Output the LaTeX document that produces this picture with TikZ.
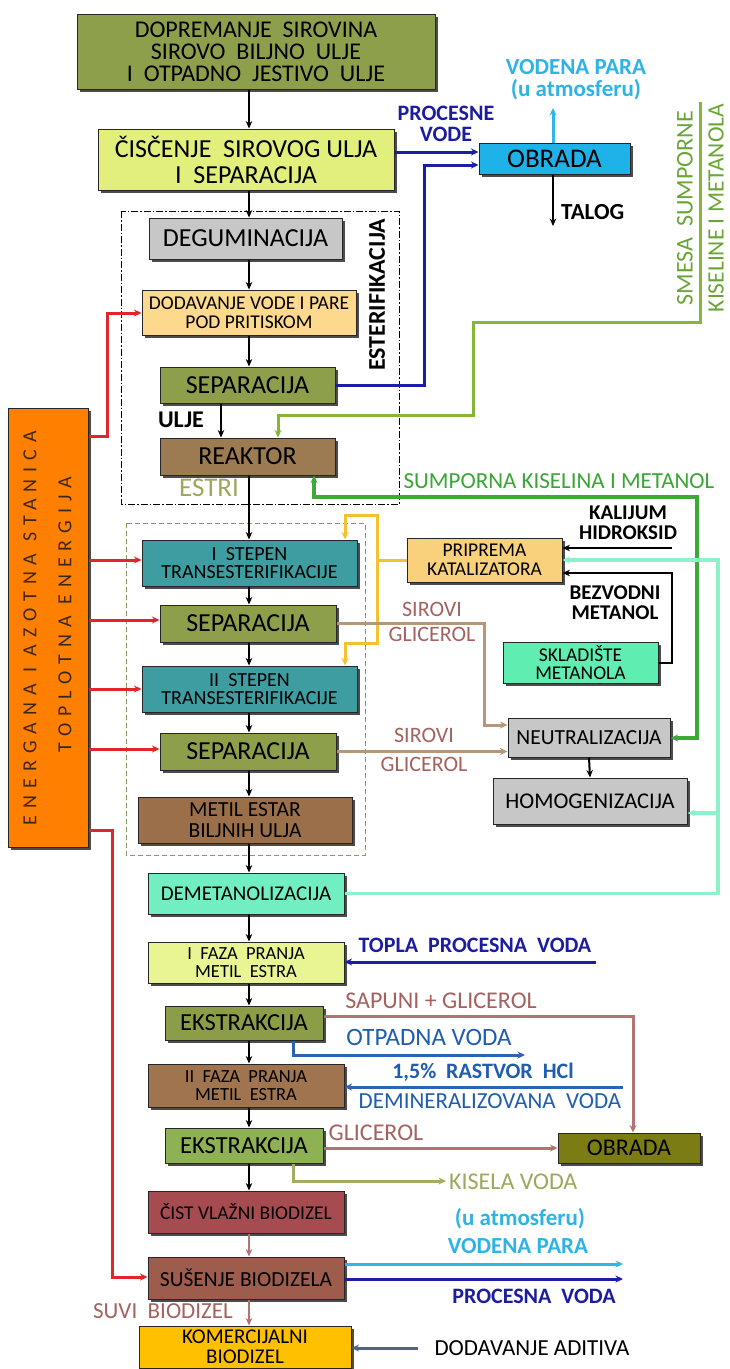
\documentclass[tikz,border=0pt]{standalone}
\usepackage{fontspec}
\setmainfont{Carlito}
\newfontfamily\tracked{Carlito}[LetterSpace=35]
\usetikzlibrary{arrows.meta,shadows}
% box fills
\definecolor{olv}{HTML}{8D9F4B}
\definecolor{lyg}{HTML}{E2EF7C}
\definecolor{cyb}{HTML}{1FB2E8}
\definecolor{gry}{HTML}{C7C7C7}
\definecolor{peach}{HTML}{FCD98C}
\definecolor{brn}{HTML}{9C7A52}
\definecolor{tealb}{HTML}{3D9DA1}
\definecolor{brnb}{HTML}{9A6F4A}
\definecolor{mintb}{HTML}{72EFC2}
\definecolor{lygb}{HTML}{E9F592}
\definecolor{olvb}{HTML}{8B9D46}
\definecolor{brnc}{HTML}{A0744E}
\definecolor{grnb}{HTML}{8EB253}
\definecolor{cistb}{HTML}{A64B4F}
\definecolor{susb}{HTML}{9E5C4C}
\definecolor{amber}{HTML}{FFC000}
\definecolor{dolv}{HTML}{7C7C14}
\definecolor{katb}{HTML}{F9D07C}
\definecolor{sklb}{HTML}{5FEDB2}
\definecolor{orng}{HTML}{FF7F00}
% line colours
\definecolor{lred}{HTML}{E0262B}
\definecolor{lnavy}{HTML}{1C1CA8}
\definecolor{lgreen}{HTML}{86B637}
\definecolor{dgreen}{HTML}{3DAA35}
\definecolor{lyel}{HTML}{F2C230}
\definecolor{ltan}{HTML}{B6977A}
\definecolor{lmint}{HTML}{8DF1CC}
\definecolor{lrosy}{HTML}{B37373}
\definecolor{lblue}{HTML}{2E62B5}
\definecolor{lcyan}{HTML}{2EB8E8}
\definecolor{lkhaki}{HTML}{A4AC62}
\definecolor{lsteel}{HTML}{4B6683}
\definecolor{fdash}{HTML}{8A9A5B}
% text colours
\definecolor{tnavy}{HTML}{1C1CA0}
\definecolor{tcyan}{HTML}{2DB3E6}
\definecolor{tgreen}{HTML}{6AA535}
\definecolor{tdgreen}{HTML}{3AA535}
\definecolor{tkhaki}{HTML}{9FA75D}
\definecolor{trosy}{HTML}{A4625F}
\definecolor{tblue}{HTML}{1F5DB0}
\definecolor{tdark}{HTML}{3A2818}
\newcommand\fz[2]{\fontsize{#1}{#2}\selectfont}
\begin{document}
\begin{tikzpicture}[x=1pt,y=-1pt,
  bx/.style={draw=black!85, line width=1pt, inner sep=0pt, align=center, text=black,
    general shadow={fill=black!70, shadow xshift=2.5pt, shadow yshift=-2.5pt}},
  conn/.style={line width=3pt, -{Stealth[length=7.5pt,width=7pt]}},
  blk/.style={line width=2pt, draw=black, -{Stealth[length=7.5pt,width=6.5pt]}},
  lbl/.style={inner sep=0pt, align=center}]
\useasboundingbox (0,0) rectangle (729,1369);
\fill[white] (0,0) rectangle (729,1369);
\coordinate (m) at (249,0);
\coordinate (u) at (221,0);

% frames
\draw[black, line width=0.8pt, dash pattern=on 7pt off 2pt on 1.5pt off 2pt] (121,211) rectangle (399,504);
\draw[fdash, line width=1pt, dash pattern=on 5pt off 3pt] (126,523) rectangle (365,855);

% boxes
\node[bx, fill=olv, minimum width=358, minimum height=75, font=\fz{24}{22}] (top) at (256,51.5)
  {DOPREMANJE\ \ SIROVINA\\SIROVO\ \ BILJNO\ \ ULJE\\I\ \ OTPADNO\ \ JESTIVO\ \ ULJE};
\node[bx, fill=lyg, minimum width=296, minimum height=61, font=\fz{26}{26}] (clean) at (246,159.5)
  {ČISČENJE\ \ SIROVOG ULJA\\I\ \ SEPARACIJA};
\node[bx, fill=cyb, minimum width=151, minimum height=31, font=\fz{27}{27}] (obr1) at (554.5,158.5)
  {OBRADA};
\node[bx, fill=gry, minimum width=193, minimum height=41, font=\fz{26}{26}] (degum) at (245.5,238.5)
  {DEGUMINACIJA};
\node[bx, fill=peach, minimum width=214, minimum height=45, font=\fz{19.5}{18.5}] (dodav) at (249,312.5)
  {DODAVANJE VODE I PARE\\POD PRITISKOM};
\node[bx, fill=olv, minimum width=175, minimum height=36, font=\fz{26}{26}] (sep1) at (247.5,385)
  {SEPARACIJA};
\node[bx, fill=brn, minimum width=175, minimum height=37, font=\fz{26}{26}] (reak) at (247.5,456.5)
  {REAKTOR};
\node[bx, fill=tealb, minimum width=215, minimum height=46, font=\fz{20}{18}] (st1) at (249.5,563)
  {I\ \ STEPEN\\TRANSESTERIFIKACIJE};
\node[bx, fill=olv, minimum width=176, minimum height=37, font=\fz{26}{26}] (sep2) at (248,623.5)
  {SEPARACIJA};
\node[bx, fill=tealb, minimum width=215, minimum height=46, font=\fz{20}{18}] (st2) at (249.5,689)
  {II\ \ STEPEN\\TRANSESTERIFIKACIJE};
\node[bx, fill=olv, minimum width=176, minimum height=37, font=\fz{26}{26}] (sep3) at (248,751.5)
  {SEPARACIJA};
\node[bx, fill=brnb, minimum width=214, minimum height=46, font=\fz{21.5}{21}] (metil) at (245,820)
  {METIL ESTAR\\BILJNIH ULJA};
\node[bx, fill=mintb, minimum width=196, minimum height=41, font=\fz{21}{21}] (demet) at (246,893.5)
  {DEMETANOLIZACIJA};
\node[bx, fill=lygb, minimum width=196, minimum height=41, font=\fz{18.5}{18}] (faza1) at (246,962.5)
  {I\ \ FAZA\ \ PRANJA\\METIL\ \ ESTRA};
\node[bx, fill=olvb, minimum width=158, minimum height=34, font=\fz{24.5}{24}] (ek1) at (244,1023)
  {EKSTRAKCIJA};
\node[bx, fill=brnc, minimum width=196, minimum height=43, font=\fz{18.5}{18}] (faza2) at (246,1085.5)
  {II\ \ FAZA\ \ PRANJA\\METIL\ \ ESTRA};
\node[bx, fill=grnb, minimum width=158, minimum height=35, font=\fz{24.5}{24}] (ek2) at (244,1145.5)
  {EKSTRAKCIJA};
\node[bx, fill=cistb, minimum width=196, minimum height=42, font=\fz{19.5}{19}] (cist) at (246,1212)
  {ČIST VLAŽNI BIODIZEL};
\node[bx, fill=susb, minimum width=196, minimum height=42, font=\fz{21.5}{21}] (sus) at (246,1278)
  {SUŠENJE BIODIZELA};
\node[bx, fill=amber, minimum width=212, minimum height=42, font=\fz{21}{20}] (kom) at (245,1347)
  {KOMERCIJALNI\\BIODIZEL};
\node[bx, fill=dolv, minimum width=142, minimum height=30, font=\fz{24}{24}] (obr2) at (629,1148)
  {OBRADA};
\node[bx, fill=katb, minimum width=155, minimum height=44, font=\fz{19.5}{18.5}] (prip) at (484.5,560)
  {PRIPREMA\\KATALIZATORA};
\node[bx, fill=sklb, minimum width=155, minimum height=41, font=\fz{19.5}{18}] (skl) at (580.5,662.5)
  {SKLADIŠTE\\METANOLA};
\node[bx, fill=gry, minimum width=162, minimum height=39, font=\fz{21.5}{21}] (neu) at (589,737.5)
  {NEUTRALIZACIJA};
\node[bx, fill=gry, minimum width=194, minimum height=46, font=\fz{22.5}{22}] (hom) at (590,801)
  {HOMOGENIZACIJA};
\node[bx, fill=orng, minimum width=80, minimum height=439] (en) at (48,627.5) {};
\node[lbl, rotate=90, text=tdark, font=\tracked\fz{20}{20}] at (30,628) {ENERGANA\ I\ AZOTNA\ STANICA};
\node[lbl, rotate=90, text=tdark, font=\tracked\fz{20}{20}] at (65,615) {TOPLOTNA\ ENERGIJA};

% main black flow
\draw[blk] (top.south -| m) -- (clean.north -| m);
\draw[blk] (clean.south -| m) -- (degum.north -| m);
\draw[blk] (degum.south -| m) -- (dodav.north -| m);
\draw[blk] (dodav.south -| m) -- (sep1.north -| m);
\draw[blk] (sep1.south -| u) -- (reak.north -| u);
\draw[blk] (reak.south -| m) -- (st1.north -| m);
\draw[blk] (st1.south -| m) -- (sep2.north -| m);
\draw[blk] (sep2.south -| m) -- (st2.north -| m);
\draw[blk] (st2.south -| m) -- (sep3.north -| m);
\draw[blk] (sep3.south -| m) -- (metil.north -| m);
\draw[blk] (metil.south -| m) -- (demet.north -| m);
\draw[blk] (demet.south -| m) -- (faza1.north -| m);
\draw[blk] (faza1.south -| m) -- (ek1.north -| m);
\draw[blk] (ek1.south -| m) -- (faza2.north -| m);
\draw[blk] (faza2.south -| m) -- (ek2.north -| m);
\draw[blk] (ek2.south -| m) -- (cist.north -| m);
\draw[blk, draw=lrosy] (cist.south -| m) -- (sus.north -| m);
\draw[blk, draw=lrosy] (sus.south -| m) -- (kom.north -| m);
\draw[blk] (neu.south) -- (hom.north);

% OBRADA 1 outputs
\coordinate (vp) at (553,108);
\coordinate (tal) at (553,226);
\draw[conn, lcyan] (obr1.north -| vp) -- (vp);
\draw[blk] (obr1.south -| tal) -- (tal);
\draw[conn, lnavy] (clean.east |- 0,152) -- (obr1.west |- 0,152);
\draw[conn, lnavy] (sep1.east) -- (424,385) -- (424,165) -- (obr1.west |- 0,165);

% red heat lines
\draw[conn, lred] (en.east |- 0,436) -- (107,436) -- (107,313) -- (dodav.west |- 0,313);
\draw[conn, lred] (en.east |- 0,560) -- (st1.west |- 0,560);
\draw[conn, lred] (en.east |- 0,620) -- (sep2.west |- 0,620);
\draw[conn, lred] (en.east |- 0,689) -- (st2.west |- 0,689);
\draw[conn, lred] (en.east |- 0,749) -- (sep3.west |- 0,749);
\draw[conn, lred] (en.east |- 0,830) -- (112,830) -- (112,1277) -- (sus.west |- 0,1277);

% green acid lines
\coordinate (smtop) at (700,102);
\draw[conn, lgreen] (smtop) -- (700,322) -- (473,322) -- (473,415) -- (278,415) -- (reak.north -| 278,0);
\draw[line width=3.2pt, dgreen, {Stealth[length=7.5pt,width=7pt]}-{Stealth[length=7.5pt,width=7pt]}]
  (reak.south -| 314,0) -- (314,497) -- (697,497) -- (697,738) -- (neu.east |- 0,738);

% catalyst (yellow)
\draw[conn, lyel] (prip.west) -- (377,560) -- (377,515) -- (345,515) -- (st1.north -| 345,0);
\draw[conn, lyel] (377,560) -- (377,643) -- (345,643) -- (st2.north -| 345,0);

% glycerol (tan)
\draw[conn, ltan] (sep2.east) -- (484,623.5) -- (484,725) -- (neu.west |- 0,725);
\draw[conn, ltan] (sep3.east) -- (neu.west |- sep3.east);

% catalyst inputs (black)
\coordinate (koh) at (672,548);
\draw[blk] (koh) -- (prip.east |- koh);
\draw[blk] (skl.east) -- (672,662.5) -- (672,573) -- (prip.east |- 0,573);

% methanol recycle (mint)
\coordinate (mj) at (718,813);
\draw[conn, lmint, line width=3.4pt] (demet.east) -- (718,893.5) -- (718,560) -- (prip.east |- 0,560);
\draw[conn, lmint, line width=3.4pt] (mj) -- (hom.east |- mj);

% washing section
\coordinate (tpv) at (596,962);
\draw[conn, lnavy] (tpv) -- (faza1.east |- tpv);
\draw[conn, lrosy] (ek1.east |- 0,1016) -- (633,1016) -- (obr2.north -| 633,0);
\coordinate (otp) at (525,1055);
\draw[conn, lblue] (ek1.south -| 293,0) -- (293,1055) -- (otp);
\coordinate (hcl) at (623,1087);
\draw[conn, lblue] (hcl) -- (faza2.east |- hcl);
\draw[conn, lrosy] (ek2.east |- obr2.west) -- (obr2.west);
\coordinate (kv) at (446,1181);
\draw[conn, lkhaki] (ek2.south -| 293,0) -- (293,1181) -- (kv);
\coordinate (vp2) at (623,1264);
\coordinate (pv2) at (623,1279);
\draw[conn, lcyan] (sus.east |- vp2) -- (vp2);
\draw[conn, lnavy] (sus.east |- pv2) -- (pv2);
\coordinate (adt) at (418,1348);
\draw[conn, lsteel] (adt) -- (kom.east |- adt);

% labels
\node[lbl, text=tnavy, font=\bfseries\fz{22}{21}] at (446,124) {PROCESNE\\VODE};
\node[lbl, text=tcyan, font=\bfseries\fz{23}{22}] at (576,80) {VODENA PARA\\(u atmosferu)};
\node[lbl, anchor=west, font=\bfseries\fz{23}{23}] at (561,212) {TALOG};
\node[lbl, rotate=90, font=\bfseries\fz{24}{24}] at (377,295) {ESTERIFIKACIJA};
\node[lbl, font=\bfseries\fz{24}{24}] at (181,420) {ULJE};
\node[lbl, text=tkhaki, font=\fz{27}{27}] at (209,488) {ESTRI};
\node[lbl, text=tdgreen, font=\fz{23}{23}] at (559,481) {SUMPORNA KISELINA I METANOL};
\node[lbl, rotate=90, text=tgreen, font=\fz{24}{24}] at (685,208) {SMESA\ \ SUMPORNE};
\node[lbl, rotate=90, text=tgreen, font=\fz{23.5}{24}] at (716,208) {KISELINE I METANOLA};
\node[lbl, font=\bfseries\fz{21}{20}] at (628,523) {KALIJUM\\HIDROKSID};
\node[lbl, font=\bfseries\fz{21}{20}] at (615,603) {BEZVODNI\\METANOL};
\node[lbl, text=trosy, font=\fz{22}{25}] at (432,622) {SIROVI\\GLICEROL};
\node[lbl, text=trosy, font=\fz{22}{29}] at (424,750) {SIROVI\\GLICEROL};
\node[lbl, text=tnavy, font=\bfseries\fz{22}{22}] at (475,945) {TOPLA\ \ PROCESNA\ \ VODA};
\node[lbl, text=trosy, font=\fz{24}{24}] at (441,1001) {SAPUNI + GLICEROL};
\node[lbl, text=tblue, font=\fz{25}{25}] at (429,1037) {OTPADNA VODA};
\node[lbl, text=tblue, font=\bfseries\fz{22}{22}] at (483,1072) {1,5\%\ \ RASTVOR\ \ HCl};
\node[lbl, text=tblue, font=\fz{23}{23}] at (490,1101) {DEMINERALIZOVANA\ \ VODA};
\node[lbl, text=trosy, font=\fz{24}{24}] at (376,1133) {GLICEROL};
\node[lbl, anchor=west, text=tkhaki, font=\fz{24}{24}] at (449,1182) {KISELA VODA};
\node[lbl, text=tcyan, font=\bfseries\fz{23}{23}] at (520,1219) {(u atmosferu)};
\node[lbl, text=tcyan, font=\bfseries\fz{23}{23}] at (518,1246) {VODENA PARA};
\node[lbl, text=tnavy, font=\bfseries\fz{22}{22}] at (534,1296) {PROCESNA\ \ VODA};
\node[lbl, text=trosy, font=\fz{23}{23}] at (163,1311) {SUVI\ \ BIODIZEL};
\node[lbl, font=\fz{23}{23}] at (532,1348) {DODAVANJE ADITIVA};
\end{tikzpicture}
\end{document}
